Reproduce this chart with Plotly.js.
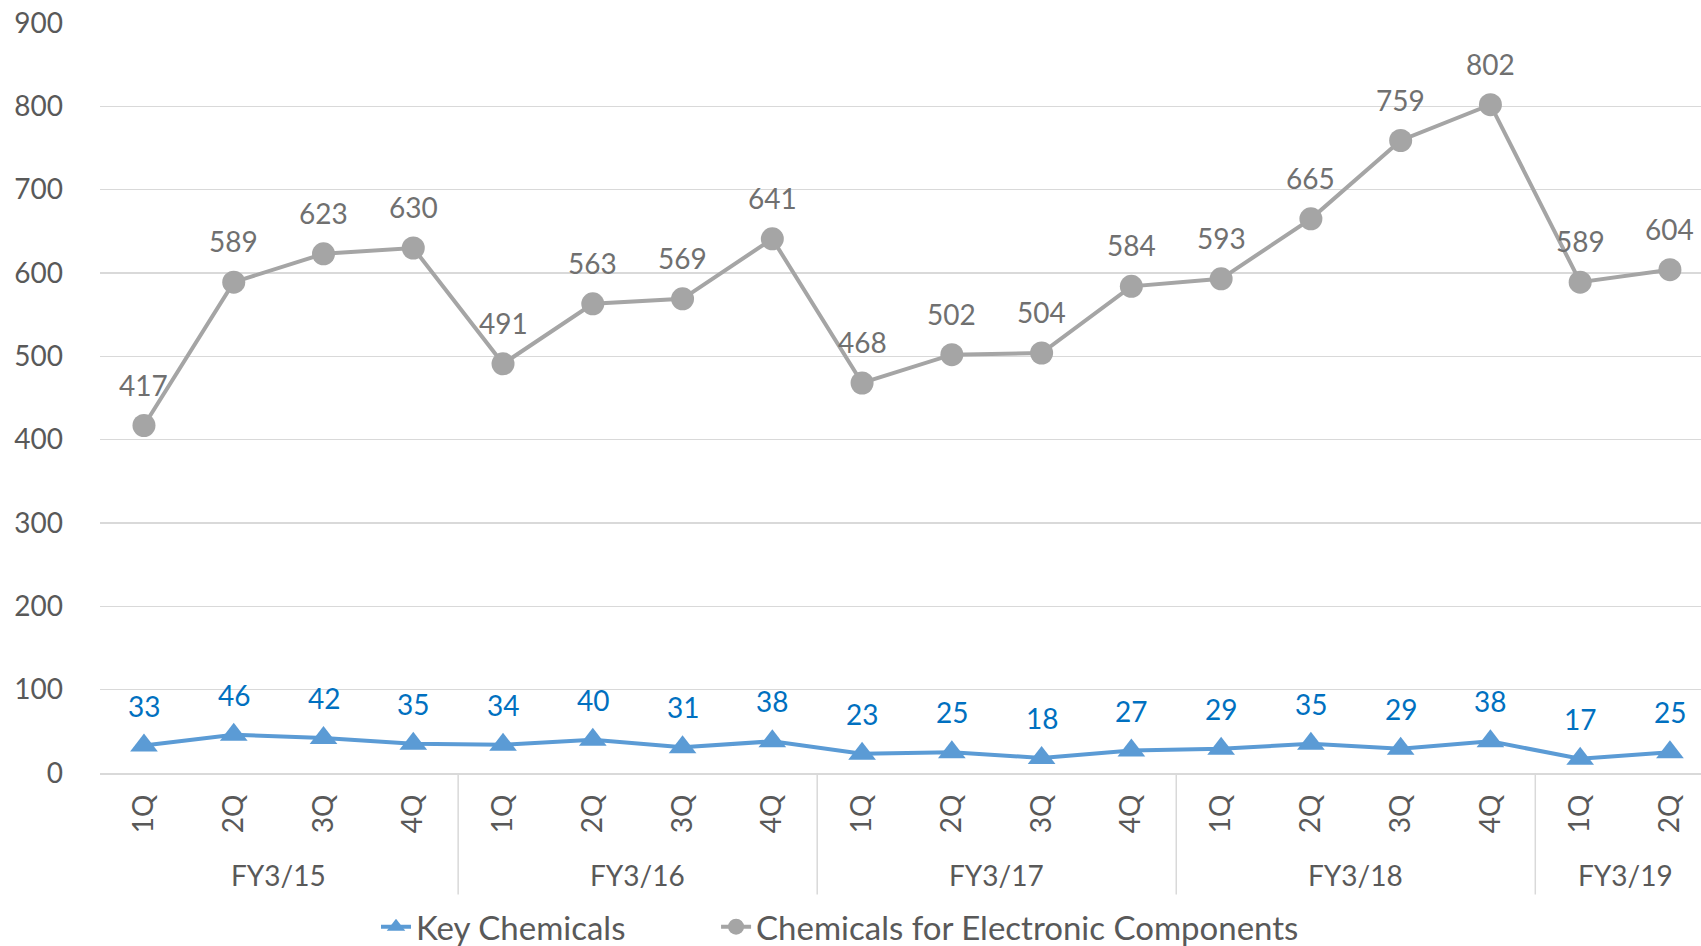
<!DOCTYPE html>
<html>
<head>
<meta charset="utf-8">
<script src="https://cdn.plot.ly/plotly-3.0.1.min.js"></script>
<style>html,body{margin:0;padding:0;background:#fff;}#chart{width:1701px;height:946px;}</style>
</head>
<body>
<div id="chart"></div>
<script>
const quarters = ["1Q","2Q","3Q","4Q","1Q","2Q","3Q","4Q","1Q","2Q","3Q","4Q","1Q","2Q","3Q","4Q","1Q","2Q"];
const fiscalYears = ["FY3/15","FY3/16","FY3/17","FY3/18","FY3/19"];
const quartersPerYear = [4,4,4,4,2];
const keyChemicals = [33,46,42,35,34,40,31,38,23,25,18,27,29,35,29,38,17,25];
const electronicChemicals = [417,589,623,630,491,563,569,641,468,502,504,584,593,665,759,802,589,604];
const seriesNames = ["Key Chemicals","Chemicals for Electronic Components"];
const yTicks = [0,100,200,300,400,500,600,700,800,900];

const FONT = "Lato, 'Open Sans', sans-serif";
const idx = quarters.map((_, i) => i);

const traces = [
  {
    x: idx, y: keyChemicals, name: seriesNames[0], type: "scatter", mode: "lines+markers",
    line: {color: "#5B9BD5", width: 4},
    marker: {symbol: "triangle-up", size: 24, color: "#5B9BD5"},
    hoverinfo: "skip", legend: "legend"
  },
  {
    x: idx, y: electronicChemicals, name: seriesNames[1], type: "scatter", mode: "lines+markers",
    line: {color: "#A5A5A5", width: 4},
    marker: {symbol: "circle", size: 23, color: "#A5A5A5"},
    hoverinfo: "skip", legend: "legend2"
  }
];

const annotations = [];
keyChemicals.forEach((v, i) => annotations.push({
  x: i, y: v, xref: "x", yref: "y", text: String(v), showarrow: false,
  yanchor: "middle", yshift: 40, font: {family: FONT, size: 28, color: "#0070C0"}
}));
electronicChemicals.forEach((v, i) => annotations.push({
  x: i, y: v, xref: "x", yref: "y", text: String(v), showarrow: false,
  yanchor: "middle", yshift: 41, font: {family: FONT, size: 28, color: "#707070"}
}));

const shapes = [];
let start = 0;
const boundaries = [-0.5];
quartersPerYear.forEach((n, g) => {
  annotations.push({
    x: start + (n - 1) / 2, y: 0, xref: "x", yref: "paper", yanchor: "middle", yshift: -102,
    text: fiscalYears[g], showarrow: false, font: {family: FONT, size: 28, color: "#595959"}
  });
  start += n;
  if (g < quartersPerYear.length - 1) boundaries.push(start - 0.5);
});
boundaries.forEach(b => shapes.push({
  type: "line", xref: "x", yref: "paper", x0: b, x1: b, y0: 0, y1: -0.162,
  line: {color: "#D9D9D9", width: 1.5}, layer: "below"
}));

const legendFont = {family: FONT, size: 33, color: "#595959"};
const layout = {
  width: 1701, height: 946,
  margin: {l: 100, r: 0, t: 23, b: 173, autoexpand: false},
  paper_bgcolor: "#fff", plot_bgcolor: "#fff",
  font: {family: FONT, size: 28, color: "#595959"},
  showlegend: true,
  legend: {
    orientation: "h", x: 0.1724, xanchor: "left", y: -0.205, yanchor: "middle", font: legendFont
  },
  legend2: {
    orientation: "h", x: 0.3848, xanchor: "left", y: -0.205, yanchor: "middle", font: legendFont
  },
  xaxis: {
    range: [-0.49, 17.346], tickmode: "array", tickvals: idx, ticktext: quarters,
    tickangle: -90, showgrid: false, zeroline: false, showline: true, linecolor: "#D9D9D9", linewidth: 1.5,
    ticks: "", ticklabelstandoff: 9, automargin: false,
    tickfont: {family: FONT, size: 28, color: "#595959"}, fixedrange: true
  },
  yaxis: {
    range: [0, 900], tickmode: "array", tickvals: yTicks, showgrid: true, gridcolor: "#D9D9D9", gridwidth: 1.5,
    zeroline: false, showline: false, ticks: "", ticklabelstandoff: 36, automargin: false,
    tickfont: {family: FONT, size: 28, color: "#595959"}, fixedrange: true
  },
  annotations: annotations,
  shapes: shapes
};

Plotly.newPlot("chart", traces, layout, {displayModeBar: false, staticPlot: true});
</script>
</body>
</html>
